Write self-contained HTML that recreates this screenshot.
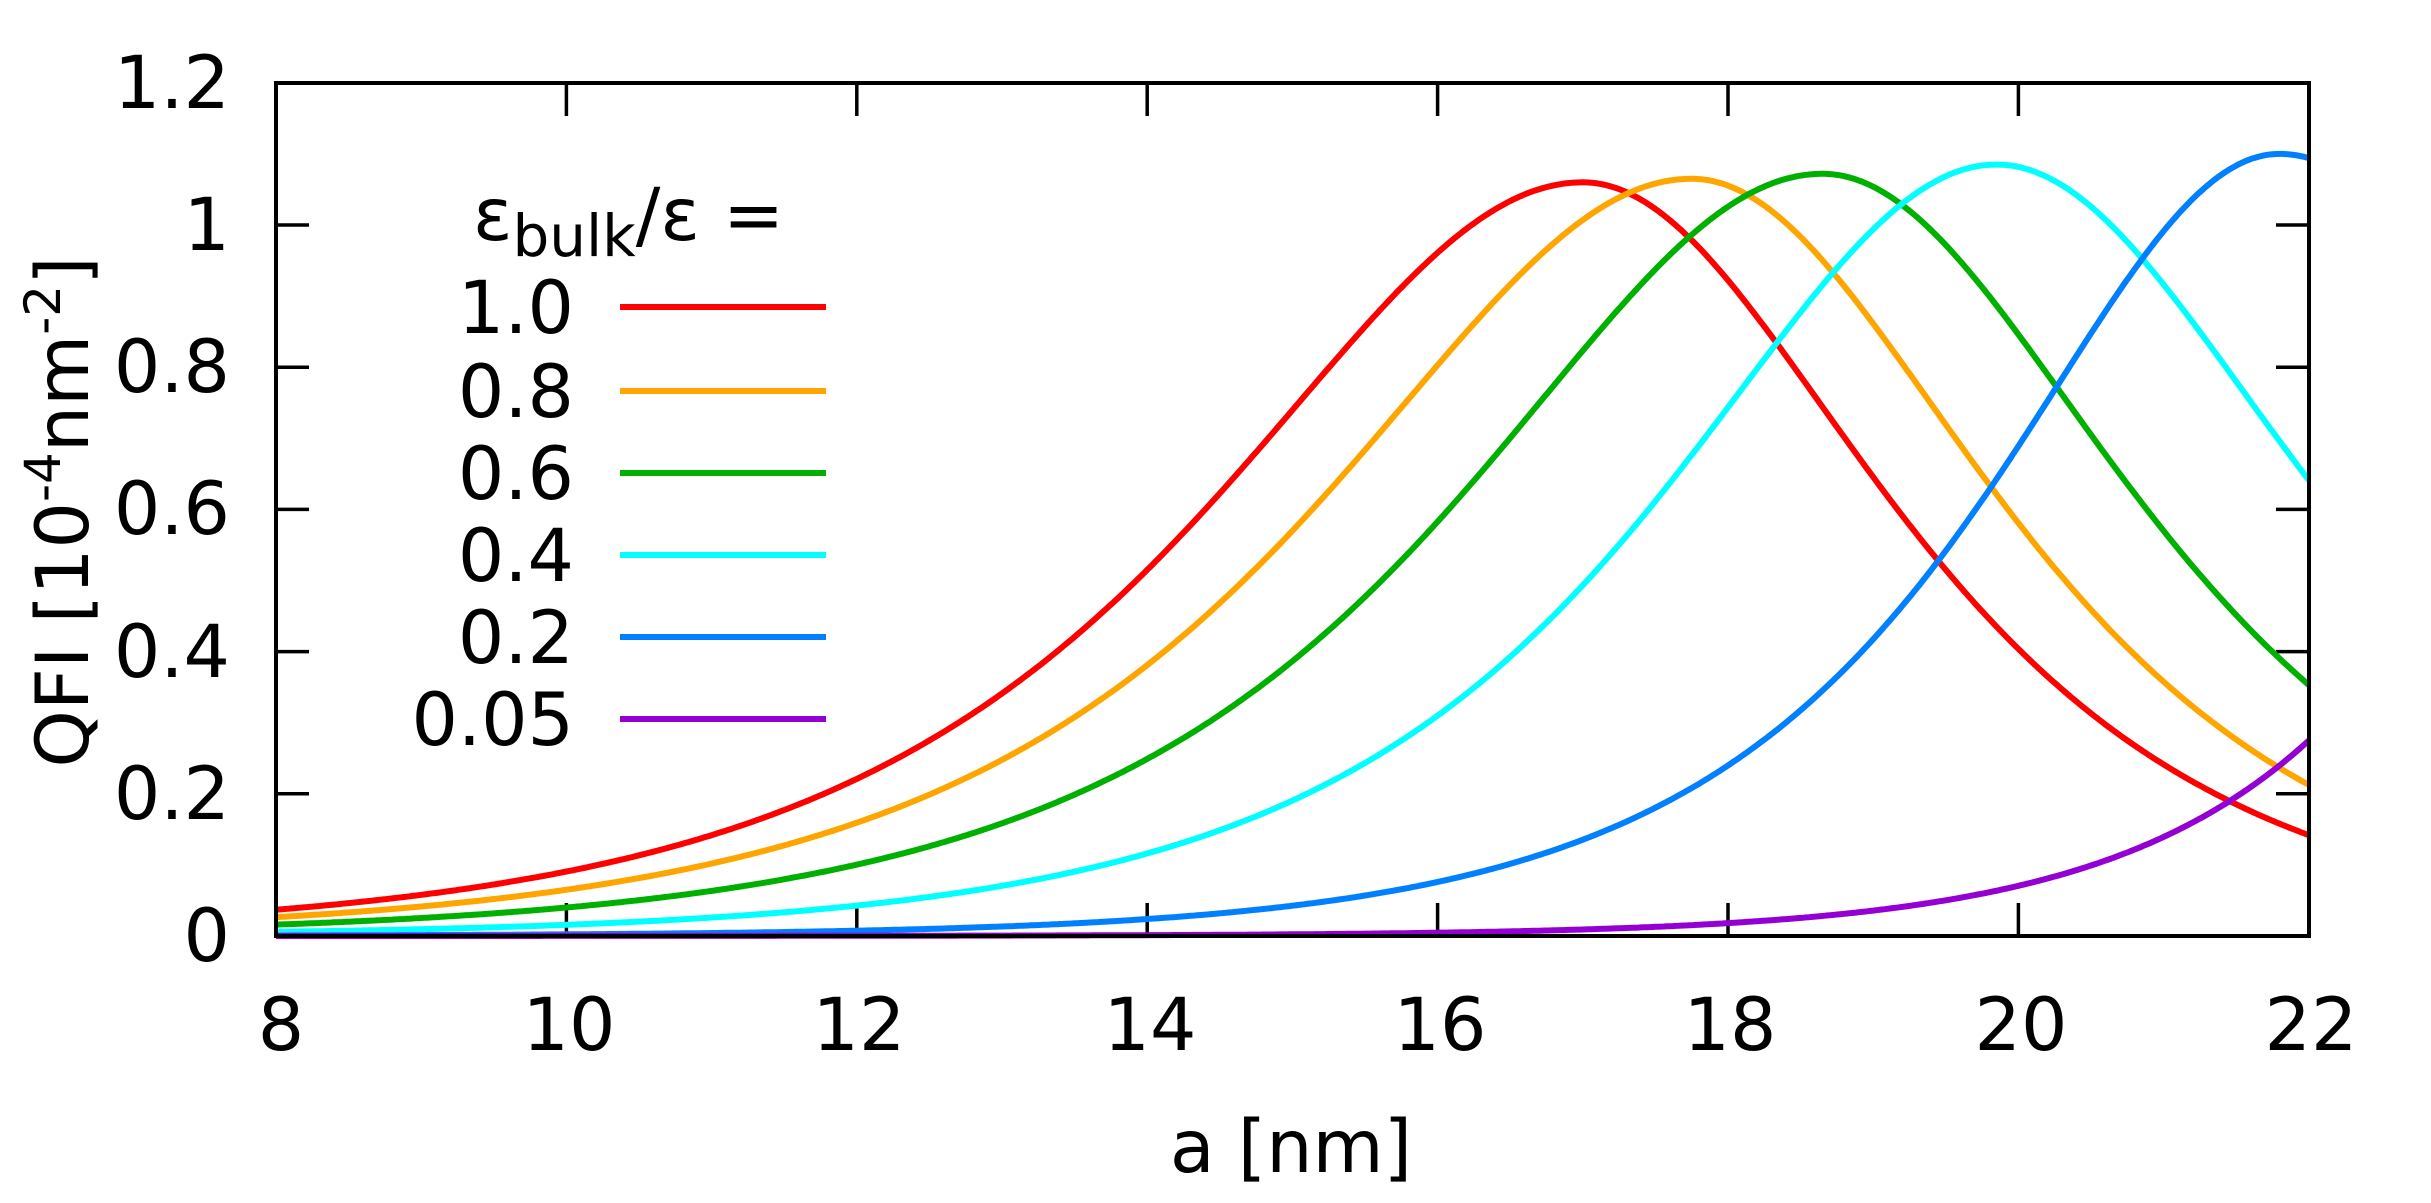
<!DOCTYPE html>
<html><head><meta charset="utf-8"><style>
html,body{margin:0;padding:0;background:#fff;}
svg{display:block;}
text{font-family:"DejaVu Sans","Liberation Sans",sans-serif;fill:#000;}
</style></head><body>
<svg id="s" width="2431" height="1203" viewBox="0 0 2431 1203" xmlns="http://www.w3.org/2000/svg">
<g id="ticks" stroke="#000" stroke-width="3.5"></g>
<g id="curves" fill="none" stroke-width="6" stroke-linejoin="round"></g>
<rect x="276" y="83" width="2033" height="853" fill="none" stroke="#000" stroke-width="4"/>
<g font-size="73" text-anchor="end">
<text x="230" y="108">1.2</text>
<text x="230" y="250">1</text>
<text x="230" y="392">0.8</text>
<text x="230" y="534">0.6</text>
<text x="230" y="677">0.4</text>
<text x="230" y="819">0.2</text>
<text x="230" y="961">0</text>
</g>
<g font-size="73" text-anchor="middle">
<text x="281" y="1050">8</text>
<text x="569" y="1050">10</text>
<text x="859" y="1050">12</text>
<text x="1150" y="1050">14</text>
<text x="1440" y="1050">16</text>
<text x="1730" y="1050">18</text>
<text x="2021" y="1050">20</text>
<text x="2311" y="1050">22</text>
</g>
<text x="1291" y="1172" font-size="73" text-anchor="middle">a [nm]</text>
<text transform="translate(88,512) rotate(-90)" font-size="73" text-anchor="middle">QFI [10<tspan dy="-28" font-size="50">-4</tspan><tspan dy="28">nm</tspan><tspan dy="-28" font-size="50">-2</tspan><tspan dy="28">]</tspan></text>
<text x="473" y="240" font-size="73">ε<tspan dy="16" font-size="58">bulk</tspan><tspan dy="-16">/ε =</tspan></text>
<g font-size="73" text-anchor="end">
<text x="574" y="333">1.0</text>
<text x="574" y="417">0.8</text>
<text x="574" y="499">0.6</text>
<text x="574" y="581">0.4</text>
<text x="574" y="663">0.2</text>
<text x="574" y="745">0.05</text>
</g>
<g stroke-width="6">
<line x1="620" y1="307" x2="826" y2="307" stroke="#ff0000"/>
<line x1="620" y1="391" x2="826" y2="391" stroke="#ffa500"/>
<line x1="620" y1="473" x2="826" y2="473" stroke="#00b000"/>
<line x1="620" y1="555" x2="826" y2="555" stroke="#00ffff"/>
<line x1="620" y1="637" x2="826" y2="637" stroke="#0080ff"/>
<line x1="620" y1="719" x2="826" y2="719" stroke="#9400d3"/>
</g>
</svg>
<script>
(function(){
var NS="http://www.w3.org/2000/svg";
function X(x){return 276+(x-8)*145.2;}
function Y(v){return 936-v*711;}
var tg=document.getElementById('ticks');
function ln(x1,y1,x2,y2){var l=document.createElementNS(NS,'line');l.setAttribute('x1',x1);l.setAttribute('y1',y1);l.setAttribute('x2',x2);l.setAttribute('y2',y2);tg.appendChild(l);}
for(var i=0;i<=6;i++){var y=Y(i*0.2);ln(276,y,309,y);ln(2276,y,2309,y);}
for(var x=8;x<=22;x+=2){var px=X(x);ln(px,936,px,903);ln(px,83,px,116);}
function sech(z){return 2/(Math.exp(z)+Math.exp(-z));}
var cs=[
 ["#ff0000",17.0,1.06,0.45,0.54],
 ["#ffa500",17.75,1.065,0.45,0.54],
 ["#00b000",18.65,1.072,0.46,0.53],
 ["#00ffff",19.85,1.085,0.5,0.52],
 ["#0080ff",21.8,1.10,0.58,0.52]
];
var cg=document.getElementById('curves');
function add(col,f){var d="";for(var k=0;k<=700;k++){var x=8+14*k/700;d+=(k?"L":"M")+X(x).toFixed(1)+" "+Y(f(x)).toFixed(1);}
var p=document.createElementNS(NS,'path');p.setAttribute('d',d);p.setAttribute('stroke',col);cg.appendChild(p);}
cs.forEach(function(c){add(c[0],function(x){var dd=x-c[1];return c[2]*sech((dd<0?c[3]:c[4])*dd);});});
add("#9400d3",function(x){return 0.275*Math.exp(0.68*(x-22));});
})();
</script>
</body></html>
